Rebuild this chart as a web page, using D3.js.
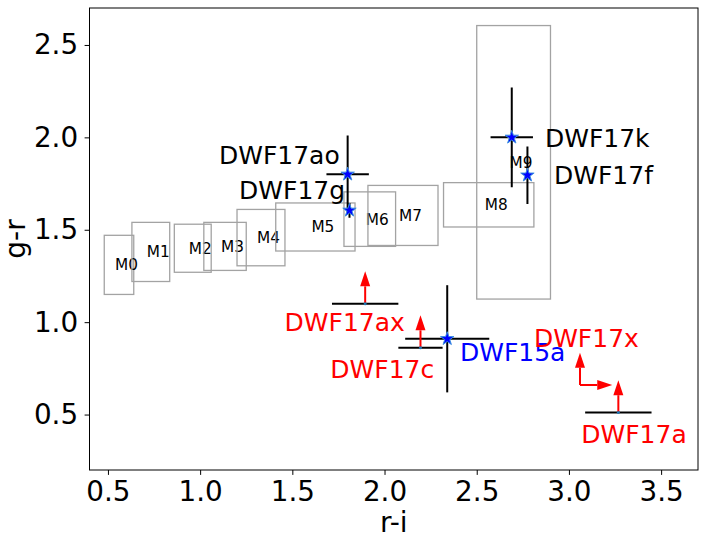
<!DOCTYPE html>
<html><head><meta charset="utf-8">
<script src="https://cdn.jsdelivr.net/npm/d3@7/dist/d3.min.js"></script>
<style>body{margin:0;background:#fff}svg{display:block}text{font-family:"DejaVu Sans",sans-serif}</style>
</head><body>
<script>
// M-dwarf colour boxes
const boxNames = ["M0","M1","M2","M3","M4","M5","M6","M7","M8","M9"];
const boxRiMin = [0.48,0.63,0.86,1.02,1.20,1.41,1.78,1.91,2.32,2.50];
const boxRiMax = [0.64,0.835,1.06,1.25,1.46,1.84,2.06,2.29,2.81,2.90];
const boxGrMin = [1.15,1.22,1.27,1.28,1.305,1.385,1.41,1.415,1.515,1.125];
const boxGrMax = [1.47,1.54,1.53,1.54,1.61,1.645,1.705,1.74,1.755,2.605];

// detected sources with error bars
const starNames = ["DWF17ao","DWF17g","DWF17k","DWF17f","DWF15a"];
const starRi    = [1.80,1.81,2.69,2.775,2.34];
const starGr    = [1.80,1.605,2.00,1.795,0.91];
const starRiErr = [0.115,0.0,0.115,0.0,0.228];
const starGrErr = [0.21,0.04,0.27,0.155,0.29];

// upper limits in g-r (arrow up)
const limNames = ["DWF17ax","DWF17c","DWF17a"];
const limRi    = [1.895,2.195,3.268];
const limGr    = [1.10,0.862,0.511];
const limRiErr = [0.18,0.12,0.18];

// DWF17x: lower limit in r-i, upper limit in g-r
const xLimRi = [3.06];
const xLimGr = [0.66];
const arrowLen = 0.175;

// annotation labels (data coordinates of text start/baseline)
const labText  = ["DWF17ao","DWF17g","DWF17k","DWF17f","DWF15a","DWF17ax","DWF17c","DWF17x","DWF17a"];
const labX     = [1.102,1.211,2.870,2.919,2.409,1.458,1.706,2.81,3.067];
const labY     = [1.857,1.668,1.948,1.746,0.789,0.954,0.697,0.867,0.348];
const labKind  = ["star","star","star","star","blue","red","red","red","red"];

const xTicks = [0.5,1.0,1.5,2.0,2.5,3.0,3.5];
const yTicks = [0.5,1.0,1.5,2.0,2.5];

const W = 709, H = 536;
const L = 89.5, R = 698, T = 8, B = 470;
const x = d3.scaleLinear().domain([0.4,3.7]).range([L,R]);
const y = d3.scaleLinear().domain([0.2,2.7]).range([B,T]);

const svg = d3.select("body").append("svg").attr("width",W).attr("height",H);
svg.append("clipPath").attr("id","clip").append("rect").attr("x",L).attr("y",T).attr("width",R-L).attr("height",B-T);
const g = svg.append("g").attr("clip-path","url(#clip)");

// boxes
boxNames.forEach((n,i)=>{
  g.append("rect").attr("x",x(boxRiMin[i])).attr("y",y(boxGrMax[i]))
   .attr("width",x(boxRiMax[i])-x(boxRiMin[i])).attr("height",y(boxGrMin[i])-y(boxGrMax[i]))
   .attr("fill","none").attr("stroke","#a3a3a3").attr("stroke-width",1.3);
  const cx = x((boxRiMin[i]+boxRiMax[i])/2), cy = y((boxGrMin[i]+boxGrMax[i])/2);
  g.append("text").attr("x",cx-4).attr("y",cy).attr("dy","0.36em")
   .attr("font-size",15.3).attr("fill","#000").text(n);
});

// error bars
starNames.forEach((n,i)=>{
  if(starRiErr[i]>0) g.append("line").attr("x1",x(starRi[i]-starRiErr[i])).attr("x2",x(starRi[i]+starRiErr[i]))
    .attr("y1",y(starGr[i])).attr("y2",y(starGr[i])).attr("stroke","#000").attr("stroke-width",2);
  if(starGrErr[i]>0) g.append("line").attr("x1",x(starRi[i])).attr("x2",x(starRi[i]))
    .attr("y1",y(starGr[i]-starGrErr[i])).attr("y2",y(starGr[i]+starGrErr[i])).attr("stroke","#000").attr("stroke-width",2);
});
limNames.forEach((n,i)=>{
  g.append("line").attr("x1",x(limRi[i]-limRiErr[i])).attr("x2",x(limRi[i]+limRiErr[i]))
    .attr("y1",y(limGr[i])).attr("y2",y(limGr[i])).attr("stroke","#000").attr("stroke-width",2);
});

// arrows
const HL = 15, HW = 10;
function arrow(x0,y0,x1,y1){
  const dx=x1-x0, dy=y1-y0, len=Math.hypot(dx,dy), ux=dx/len, uy=dy/len;
  const bx=x1-ux*HL, by=y1-uy*HL;
  g.append("line").attr("x1",x0).attr("y1",y0).attr("x2",bx).attr("y2",by)
   .attr("stroke","#ff0000").attr("stroke-width",2);
  g.append("path").attr("d",`M${x1},${y1}L${bx-uy*HW/2},${by+ux*HW/2}L${bx+uy*HW/2},${by-ux*HW/2}Z`)
   .attr("fill","#ff0000");
}
limNames.forEach((n,i)=>{
  arrow(x(limRi[i]),y(limGr[i]),x(limRi[i]),y(limGr[i]+arrowLen));
  g.append("circle").attr("cx",x(limRi[i])).attr("cy",y(limGr[i])).attr("r",1.5).attr("fill","#1f77b4");
});
xLimRi.forEach((v,i)=>{
  arrow(x(v),y(xLimGr[i]),x(v),y(xLimGr[i]+arrowLen));
  arrow(x(v),y(xLimGr[i]),x(v+arrowLen),y(xLimGr[i]));
});

// stars
const star = d3.symbol().type(d3.symbolStar).size(56);
starNames.forEach((n,i)=>{
  g.append("path").attr("d",star()).attr("transform",`translate(${x(starRi[i])},${y(starGr[i])})`)
   .attr("fill","#0000ff").attr("stroke","#3a8fe0").attr("stroke-width",1);
});

// labels
const labColor = {star:"#000", blue:"#0000ff", red:"#ff0000"};
labText.forEach((t,i)=>{
  g.append("text").attr("x",x(labX[i])).attr("y",y(labY[i])).attr("font-size",25)
   .attr("fill",labColor[labKind[i]]).text(t);
});

// axes
const xa = svg.append("g").attr("transform",`translate(0,${B})`)
  .call(d3.axisBottom(x).tickValues(xTicks).tickFormat(d3.format(".1f")).tickSize(4.9).tickPadding(6.5));
const ya = svg.append("g").attr("transform",`translate(${L},0)`)
  .call(d3.axisLeft(y).tickValues(yTicks).tickFormat(d3.format(".1f")).tickSize(4.9).tickPadding(6.5));
[xa,ya].forEach(a=>{
  a.select(".domain").remove();
  a.selectAll("text").attr("font-size",27.8).attr("fill","#000").style("font-family","DejaVu Sans");
  a.selectAll("line").attr("stroke","#000").attr("stroke-width",1);
});
svg.append("rect").attr("x",L).attr("y",T).attr("width",R-L).attr("height",B-T)
  .attr("fill","none").attr("stroke","#000").attr("stroke-width",1);

svg.append("text").attr("x",(L+R)/2).attr("y",532).attr("text-anchor","middle")
  .attr("font-size",28).text("r-i");
svg.append("text").attr("transform",`translate(25,${(T+B)/2}) rotate(-90)`).attr("text-anchor","middle")
  .attr("font-size",28).text("g-r");
</script>
</body></html>
